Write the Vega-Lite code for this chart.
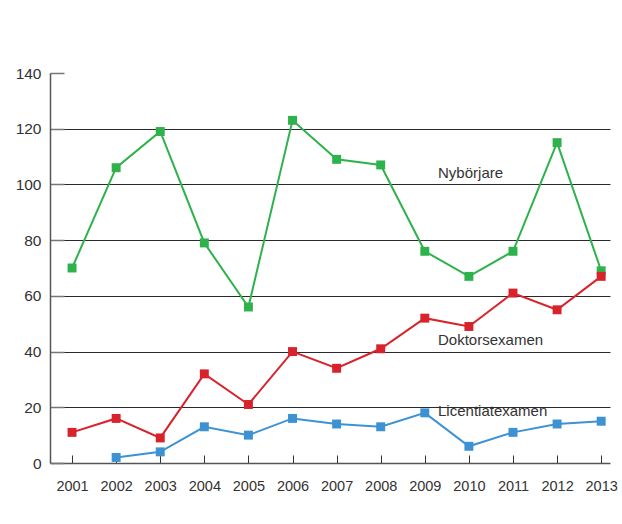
{
  "$schema": "https://vega.github.io/schema/vega-lite/v6.json",
  "width": 560,
  "height": 390,
  "autosize": "none",
  "padding": {"left": 50, "top": 73, "right": 12, "bottom": 61},
  "background": "white",
  "config": {"view": {"stroke": null}, "font": "Liberation Sans"},
  "datasets": {
    "series": [
      {"year": 2001, "serie": "Nybörjare", "value": 70},
      {"year": 2002, "serie": "Nybörjare", "value": 106},
      {"year": 2003, "serie": "Nybörjare", "value": 119},
      {"year": 2004, "serie": "Nybörjare", "value": 79},
      {"year": 2005, "serie": "Nybörjare", "value": 56},
      {"year": 2006, "serie": "Nybörjare", "value": 123},
      {"year": 2007, "serie": "Nybörjare", "value": 109},
      {"year": 2008, "serie": "Nybörjare", "value": 107},
      {"year": 2009, "serie": "Nybörjare", "value": 76},
      {"year": 2010, "serie": "Nybörjare", "value": 67},
      {"year": 2011, "serie": "Nybörjare", "value": 76},
      {"year": 2012, "serie": "Nybörjare", "value": 115},
      {"year": 2013, "serie": "Nybörjare", "value": 69},
      {"year": 2001, "serie": "Doktorsexamen", "value": 11},
      {"year": 2002, "serie": "Doktorsexamen", "value": 16},
      {"year": 2003, "serie": "Doktorsexamen", "value": 9},
      {"year": 2004, "serie": "Doktorsexamen", "value": 32},
      {"year": 2005, "serie": "Doktorsexamen", "value": 21},
      {"year": 2006, "serie": "Doktorsexamen", "value": 40},
      {"year": 2007, "serie": "Doktorsexamen", "value": 34},
      {"year": 2008, "serie": "Doktorsexamen", "value": 41},
      {"year": 2009, "serie": "Doktorsexamen", "value": 52},
      {"year": 2010, "serie": "Doktorsexamen", "value": 49},
      {"year": 2011, "serie": "Doktorsexamen", "value": 61},
      {"year": 2012, "serie": "Doktorsexamen", "value": 55},
      {"year": 2013, "serie": "Doktorsexamen", "value": 67},
      {"year": 2002, "serie": "Licentiatexamen", "value": 2},
      {"year": 2003, "serie": "Licentiatexamen", "value": 4},
      {"year": 2004, "serie": "Licentiatexamen", "value": 13},
      {"year": 2005, "serie": "Licentiatexamen", "value": 10},
      {"year": 2006, "serie": "Licentiatexamen", "value": 16},
      {"year": 2007, "serie": "Licentiatexamen", "value": 14},
      {"year": 2008, "serie": "Licentiatexamen", "value": 13},
      {"year": 2009, "serie": "Licentiatexamen", "value": 18},
      {"year": 2010, "serie": "Licentiatexamen", "value": 6},
      {"year": 2011, "serie": "Licentiatexamen", "value": 11},
      {"year": 2012, "serie": "Licentiatexamen", "value": 14},
      {"year": 2013, "serie": "Licentiatexamen", "value": 15}
    ],
    "labels": [
      {"year": 2009.3, "value": 104, "label": "Nybörjare"},
      {"year": 2009.3, "value": 44, "label": "Doktorsexamen"},
      {"year": 2009.3, "value": 18.5, "label": "Licentiatexamen"}
    ]
  },
  "layer": [
    {
      "data": {"name": "series"},
      "mark": {"type": "line", "strokeWidth": 2},
      "encoding": {
        "x": {
          "field": "year", "type": "quantitative",
          "scale": {"domain": [2000.5, 2013.2], "nice": false, "zero": false},
          "axis": {
            "values": [2001, 2002, 2003, 2004, 2005, 2006, 2007, 2008, 2009, 2010, 2011, 2012, 2013],
            "format": "d", "title": null, "grid": false,
            "domainColor": "#555", "domainWidth": 1.5,
            "tickColor": "#333", "tickSize": -8, "tickWidth": 1,
            "labelPadding": 24, "labelFontSize": 14.5, "labelColor": "#333",
            "labelFont": "Liberation Sans"
          }
        },
        "y": {
          "field": "value", "type": "quantitative",
          "scale": {"domain": [0, 140], "nice": false},
          "axis": {
            "values": [0, 20, 40, 60, 80, 100, 120, 140],
            "title": null,
            "grid": true, "gridColor": "#2a2a2a", "gridWidth": 1,
            "gridOpacity": {"condition": {"test": "datum.value == 140 || datum.value == 0", "value": 0}, "value": 1},
            "domainColor": "#555", "domainWidth": 1.5,
            "tickColor": "#777", "tickSize": -14, "tickWidth": 1.5,
            "labelPadding": 23, "labelFontSize": 15.5, "labelColor": "#333",
            "labelFont": "Liberation Sans"
          }
        },
        "color": {
          "field": "serie", "type": "nominal",
          "scale": {"domain": ["Nybörjare", "Doktorsexamen", "Licentiatexamen"], "range": ["#2eb24b", "#d8232d", "#3c92d3"]},
          "legend": null
        }
      }
    },
    {
      "data": {"name": "series"},
      "mark": {"type": "square", "size": 80, "opacity": 1, "filled": true},
      "encoding": {
        "x": {"field": "year", "type": "quantitative"},
        "y": {"field": "value", "type": "quantitative"},
        "color": {"field": "serie", "type": "nominal", "legend": null}
      }
    },
    {
      "data": {"name": "labels"},
      "mark": {"type": "text", "align": "left", "baseline": "middle", "fontSize": 15, "color": "#333", "font": "Liberation Sans"},
      "encoding": {
        "x": {"field": "year", "type": "quantitative"},
        "y": {"field": "value", "type": "quantitative"},
        "text": {"field": "label"}
      }
    }
  ]
}
